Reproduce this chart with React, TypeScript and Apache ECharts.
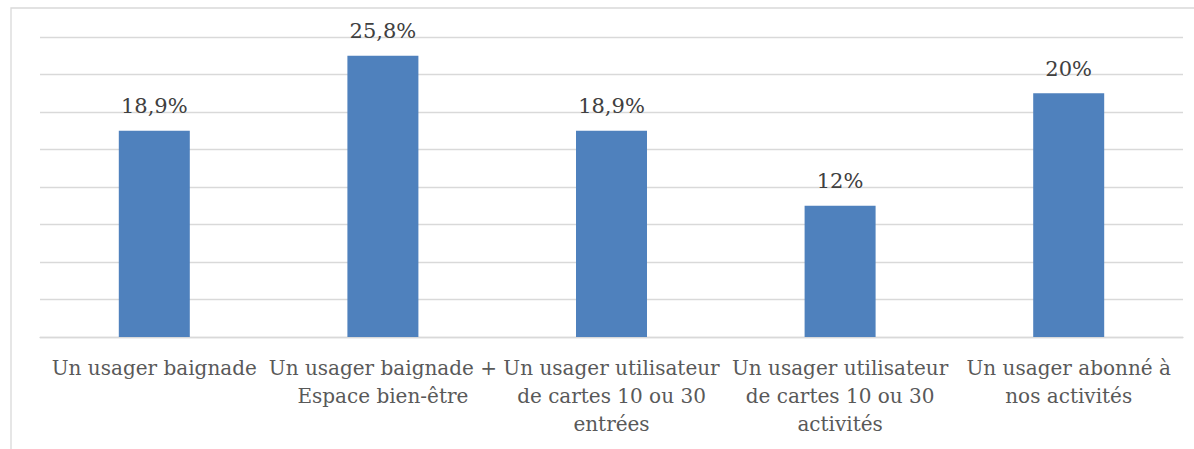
import React, { useEffect, useRef } from "react";
import * as echarts from "echarts";

const categories = [
  "Un usager baignade",
  "Un usager baignade +\nEspace bien-être",
  "Un usager utilisateur\nde cartes 10 ou 30\nentrées",
  "Un usager utilisateur\nde cartes 10 ou 30\nactivités",
  "Un usager abonné à\nnos activités",
];
// bar heights in gridline units as drawn in the picture
const barValues = [5.5, 7.5, 5.5, 3.5, 6.5];
// labels printed above the bars
const valueLabels = ["18,9%", "25,8%", "18,9%", "12%", "20%"];

export default function App() {
  const ref = useRef<HTMLDivElement>(null);
  useEffect(() => {
    if (!ref.current) return;
    const chart = echarts.init(ref.current, undefined, { renderer: "svg" });
    chart.setOption({
      animation: false,
      backgroundColor: "#ffffff",
      graphic: [
        {
          type: "rect",
          shape: { x: 11, y: 8, width: 1300, height: 600 },
          style: { fill: "none", stroke: "#d9d9d9", lineWidth: 1.3 },
          silent: true,
          z: -1,
        },
      ],
      grid: { left: 40, right: 11, top: 37, bottom: 112 },
      xAxis: {
        type: "category",
        data: categories,
        axisLine: { lineStyle: { color: "#d9d9d9", width: 1.3 } },
        axisTick: { show: false },
        axisLabel: {
          interval: 0,
          margin: 17,
          color: "#595959",
          fontFamily: "DejaVu Serif",
          fontSize: 20,
          lineHeight: 28,
        },
      },
      yAxis: {
        type: "value",
        min: 0,
        max: 8,
        interval: 1,
        axisLabel: { show: false },
        axisLine: { show: false },
        axisTick: { show: false },
        splitLine: { lineStyle: { color: "#d9d9d9", width: 1.3 } },
      },
      series: [
        {
          type: "bar",
          data: barValues,
          barWidth: 71,
          itemStyle: { color: "#4f81bd" },
          label: {
            show: true,
            position: "top",
            distance: 14,
            color: "#404040",
            fontFamily: "DejaVu Serif",
            fontSize: 21,
            formatter: (p: any) => valueLabels[p.dataIndex],
          },
        },
      ],
    });
    return () => chart.dispose();
  }, []);
  return (
    <div
      ref={ref}
      style={{ position: "fixed", left: 0, top: 0, width: 1194, height: 449 }}
    />
  );
}
